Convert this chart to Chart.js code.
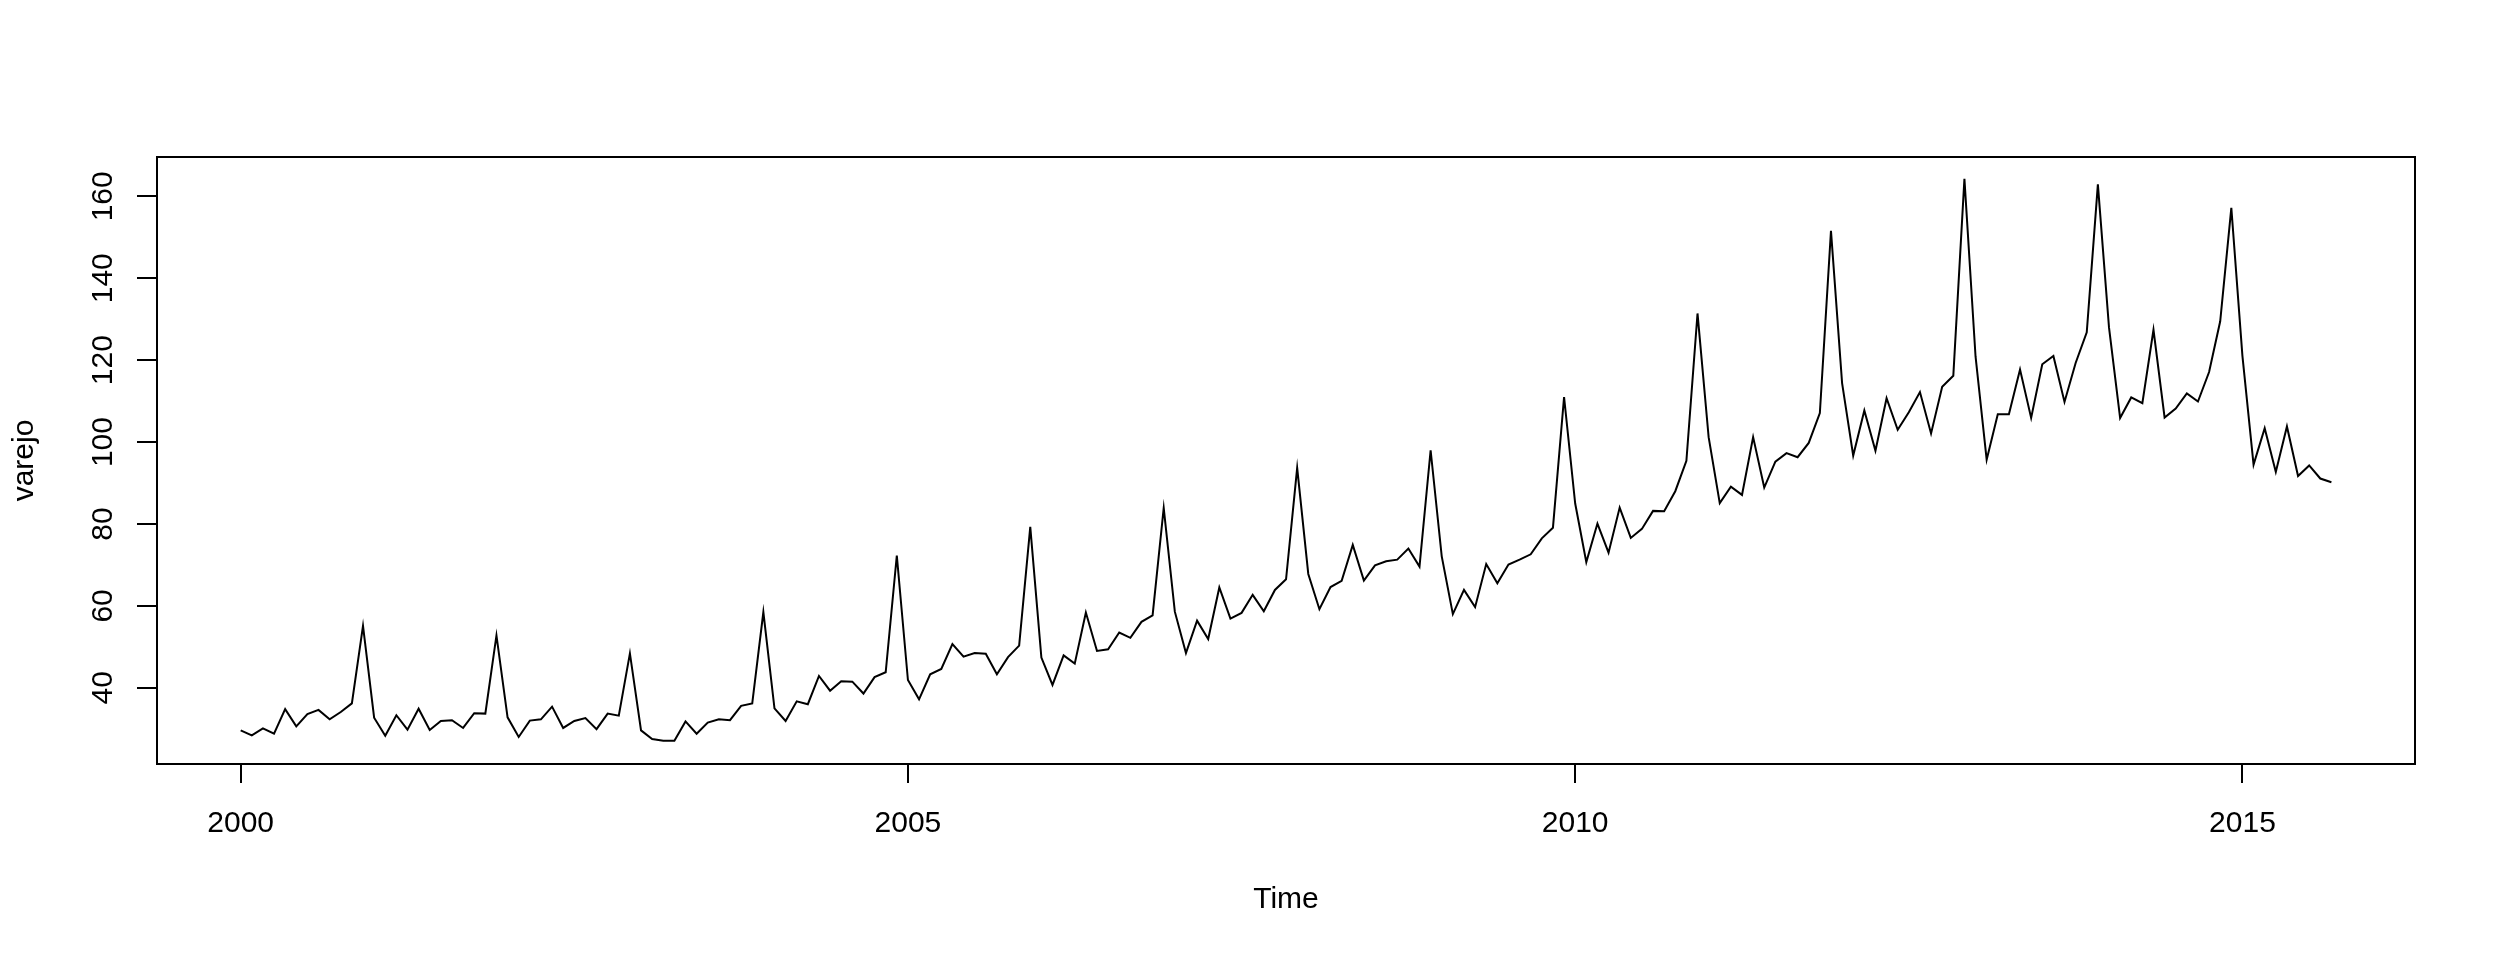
<!DOCTYPE html>
<html>
<head>
<meta charset="utf-8">
<script src="https://cdn.jsdelivr.net/npm/chart.js@4.4.1/dist/chart.umd.min.js"></script>
<style>
  html, body { margin: 0; padding: 0; background: #ffffff; }
  canvas { display: block; }
</style>
</head>
<body>
<canvas id="c" width="2496" height="960"></canvas>
<script>
// Monthly series "varejo", Jan 2000 .. Sep 2015
const startYear = 2000;
const frequency = 12;
const v2000 = [29.6, 28.4, 30.1, 28.8, 34.8, 30.6, 33.6, 34.6, 32.3, 34.1, 36.2, 55.1];
const v2001 = [32.7, 28.3, 33.3, 29.8, 34.9, 29.7, 31.9, 32.1, 30.2, 33.8, 33.7, 52.8];
const v2002 = [32.8, 28.0, 32.0, 32.3, 35.4, 30.2, 31.9, 32.6, 29.9, 33.7, 33.2, 48.4];
const v2003 = [29.6, 27.5, 27.1, 27.1, 31.8, 28.8, 31.5, 32.3, 32.1, 35.6, 36.2, 58.5];
const v2004 = [35.0, 31.9, 36.7, 36.0, 42.9, 39.3, 41.6, 41.5, 38.6, 42.6, 43.8, 72.3];
const v2005 = [41.9, 37.2, 43.3, 44.6, 50.7, 47.6, 48.5, 48.3, 43.3, 47.5, 50.3, 79.3];
const v2006 = [47.4, 40.7, 47.9, 45.9, 58.4, 49.0, 49.4, 53.5, 52.2, 56.1, 57.7, 83.9];
const v2007 = [58.6, 48.5, 56.4, 51.9, 64.5, 56.9, 58.3, 62.7, 58.7, 63.9, 66.5, 93.7];
const v2008 = [67.8, 59.2, 64.6, 66.1, 74.9, 66.2, 69.9, 70.9, 71.3, 74.0, 69.6, 98.0];
const v2009 = [72.1, 58.0, 63.9, 59.7, 70.2, 65.5, 70.1, 71.3, 72.6, 76.5, 79.1, 111.0];
const v2010 = [85.0, 70.7, 80.1, 73.0, 84.0, 76.6, 78.8, 83.2, 83.1, 88.0, 95.4, 131.4];
const v2011 = [101.2, 85.1, 89.1, 87.1, 101.2, 88.9, 95.2, 97.3, 96.3, 99.8, 107.1, 151.6];
const v2012 = [114.4, 96.7, 107.7, 97.9, 110.7, 103.0, 107.3, 112.2, 102.1, 113.5, 116.2, 164.3];
const v2013 = [120.9, 95.7, 106.8, 106.8, 117.7, 105.9, 119.0, 121.0, 109.8, 119.3, 126.8, 162.9];
const v2014 = [128.0, 105.9, 110.9, 109.5, 127.4, 106.0, 108.2, 111.9, 109.9, 117.1, 129.5, 157.2];
const v2015 = [121.0, 94.5, 103.4, 92.7, 103.8, 91.7, 94.3, 91.1, 90.2];

const varejo = [].concat(v2000, v2001, v2002, v2003, v2004, v2005, v2006, v2007,
                         v2008, v2009, v2010, v2011, v2012, v2013, v2014, v2015);

const xTicks = [2000, 2005, 2010, 2015];
const yTicks = [40, 60, 80, 100, 120, 140, 160];
const xTitle = 'Time';
const yTitle = 'varejo';

const points = varejo.map((v, i) => ({ x: startYear + i / frequency, y: v }));

const FONT = '"Liberation Sans", Arial, Helvetica, sans-serif';

const rPlotBox = {
  id: 'rPlotBox',
  afterDraw(chart) {
    const { ctx, chartArea: a, scales } = chart;
    ctx.save();
    ctx.strokeStyle = '#000';
    ctx.lineWidth = 2;
    ctx.strokeRect(a.left, a.top, a.right - a.left, a.bottom - a.top);
    ctx.fillStyle = '#000';
    ctx.font = '30px ' + FONT;
    ctx.textAlign = 'center';
    ctx.textBaseline = 'middle';
    yTicks.forEach(v => {
      const py = scales.y.getPixelForValue(v);
      ctx.save();
      ctx.translate(104, py);
      ctx.rotate(-Math.PI / 2);
      ctx.fillText(String(v), 0, 0);
      ctx.restore();
    });
    ctx.restore();
  }
};

new Chart(document.getElementById('c'), {
  type: 'line',
  data: {
    datasets: [{
      data: points,
      borderColor: '#000',
      borderWidth: 2,
      pointRadius: 0,
      tension: 0,
      fill: false
    }]
  },
  options: {
    responsive: false,
    animation: false,
    devicePixelRatio: 1,
    parsing: true,
    layout: { padding: { top: 157, right: 81, left: 0, bottom: 0 } },
    plugins: { legend: { display: false }, tooltip: { enabled: false } },
    scales: {
      x: {
        type: 'linear',
        min: 1999.373,
        max: 2016.293,
        afterBuildTicks: s => { s.ticks = xTicks.map(v => ({ value: v })); },
        afterFit: s => { s.height = 196; },
        grid: { display: true, drawOnChartArea: false, drawTicks: true, tickLength: 19, color: '#000', lineWidth: 2 },
        border: { display: true, color: '#000', width: 2 },
        ticks: {
          color: '#000', font: { family: FONT, size: 30 }, padding: 23,
          maxRotation: 0, autoSkip: false,
          callback: v => String(v)
        },
        title: { display: true, text: xTitle, color: '#000', font: { family: FONT, size: 30 }, padding: { top: 0, bottom: 42 } }
      },
      y: {
        type: 'linear',
        min: 21.4,
        max: 169.6,
        afterBuildTicks: s => { s.ticks = yTicks.map(v => ({ value: v })); },
        afterFit: s => { s.width = 157; },
        grid: { display: true, drawOnChartArea: false, drawTicks: true, tickLength: 20, color: '#000', lineWidth: 2 },
        border: { display: true, color: '#000', width: 2 },
        ticks: { display: false },
        title: { display: true, text: yTitle, color: '#000', font: { family: FONT, size: 30 }, padding: { top: 7, bottom: 0 } }
      }
    }
  },
  plugins: [rPlotBox]
});
</script>
</body>
</html>
